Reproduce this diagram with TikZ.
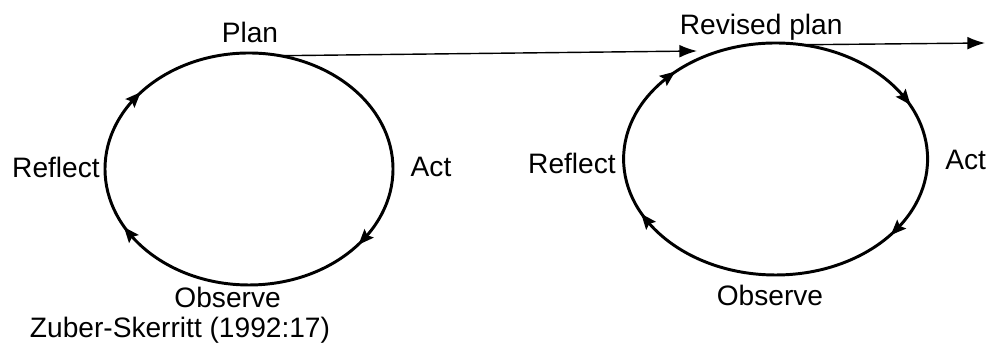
\documentclass[tikz,border=0pt]{standalone}
\usepackage{fontspec}
\setmainfont{Liberation Sans}
\usetikzlibrary{arrows.meta,decorations.markings,calc}
% arrowhead on a cycle, pointing clockwise
\newcommand{\cyctip}{\fill (-2.1mm,0) -- (1.8mm,1.6mm) -- (1.1mm,0) -- (1.8mm,-1.6mm) -- cycle;}

\begin{document}
\begin{tikzpicture}[font=\fontsize{20}{24}\selectfont,>={Latex[length=4.4mm,width=3.2mm]},
  cyc/.style={line width=2.1pt,postaction={decorate}},
  flow/.style={line width=1pt,->},
  lbl/.style={inner sep=0pt}]
\useasboundingbox (0,0) rectangle (24.725,8.7);
% first cycle
\coordinate (cA) at (6.225,4.475);
\draw[cyc,decoration={markings,
  mark=at position 0.404 with {\cyctip},
  mark=at position 0.586 with {\cyctip},
  mark=at position 0.906 with {\cyctip}}]
  (cA) ellipse [x radius=3.6,y radius=2.9];
\node[lbl] (planA) at (6.25,7.9) {Plan};
\node[lbl] (actA) at (10.775,4.525) {Act};
\node[lbl] (obsA) at (5.69,1.27) {Observe};
\node[lbl] (refA) at (1.4,4.525) {Reflect};
\node[lbl] (src) at (4.5,0.45) {Zuber-Skerritt (1992:17)};
% second cycle
\coordinate (cB) at (19.39,4.725);
\draw[cyc,decoration={markings,
  mark=at position 0.078 with {\cyctip},
  mark=at position 0.385 with {\cyctip},
  mark=at position 0.579 with {\cyctip},
  mark=at position 0.907 with {\cyctip}}]
  (cB) ellipse [x radius=3.8,y radius=2.9];
\node[lbl] (planB) at (19.03,8.025) {Revised plan};
\node[lbl] (actB) at (24.14,4.7) {Act};
\node[lbl] (obsB) at (19.25,1.325) {Observe};
\node[lbl] (refB) at (14.3,4.625) {Reflect};
% links
\coordinate (outA) at ($(cA)+(77.6:3.6 and 2.9)$);
\coordinate (inB) at (17.425,7.425);
\coordinate (outB) at ($(cB)+(80:3.8 and 2.9)$);
\coordinate (endB) at (24.625,7.625);
\draw[flow] (outA) -- (inB);
\draw[flow] (outB) -- (endB);
\end{tikzpicture}
\end{document}
